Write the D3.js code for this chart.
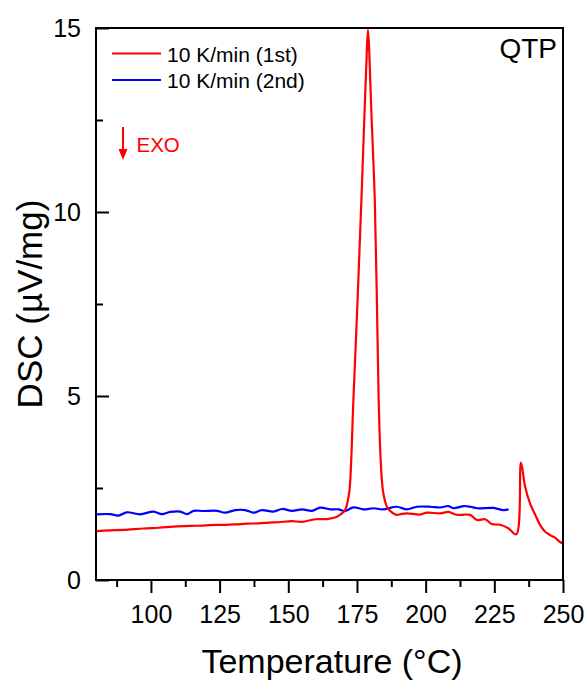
<!DOCTYPE html>
<html><head><meta charset="utf-8">
<script src="https://cdn.jsdelivr.net/npm/d3@7"></script>
<style>body{margin:0;background:#fff;} text{font-family:Arial,"Liberation Sans",sans-serif;}</style>
</head><body>
<svg id="c" width="587" height="680"></svg>
<script>
const xTicks = [100,125,150,175,200,225,250];
const xMinorTicks = [87.5,112.5,137.5,162.5,187.5,212.5,237.5];
const yTicks = [0,5,10,15];
const yMinorTicks = [2.5,7.5,12.5];
const seriesNames = ["10 K/min (1st)","10 K/min (2nd)"];
const seriesColors = ["#ff0000","#0000ff"];

const firstT = [80,85,90,97.3,103,108.2,114,119,124,127,130.7,135,139.2,143,146.4,151.3,155,159.8,164.6,167.7,169.5,170.7,171.5,172.3,173.7,175.1,176.6,177.8,178.5,179.0,179.5,180.3,181.5,182.2,182.9,183.6,184.4,185.2,185.9,187.1,189.5,191,193.2,198,200.5,205.3,208.3,210.8,212.8,216.2,218.7,221.7,224.1,227.1,230.2,233,234.7,236.2,238,239.9,241.7,243.5,245.3,247.1,248.8,250];
const firstV = [1.33,1.35,1.36,1.40,1.42,1.45,1.47,1.48,1.50,1.50,1.51,1.53,1.54,1.56,1.57,1.60,1.58,1.65,1.66,1.72,1.81,1.90,2.1,2.45,4.9,7.4,10.3,12.8,14.2,14.95,14.3,12.6,10.3,7.8,4.9,3.3,2.45,2.15,1.99,1.88,1.77,1.79,1.81,1.78,1.83,1.81,1.85,1.78,1.77,1.77,1.63,1.65,1.52,1.50,1.40,1.24,3.19,2.54,2.08,1.77,1.49,1.31,1.22,1.15,1.04,0.99];

const secondT = [80.3,85.2,88.2,91.2,96.1,100.9,104,107,110.7,113.1,115.5,119.1,124,127,130.7,134.3,137.3,140.4,144.6,147.7,151.3,155,158.6,161.6,165.3,168.3,170.7,173.7,177.4,181,184.4,189.5,193.2,196.8,201.7,205.3,208.3,210.2,213.9,216.3,218.7,224.7,228.3,230.2];
const secondV = [1.785,1.79,1.75,1.84,1.785,1.86,1.79,1.85,1.86,1.79,1.88,1.875,1.88,1.83,1.90,1.90,1.83,1.90,1.86,1.93,1.88,1.92,1.88,1.965,1.92,1.92,1.875,1.975,1.92,1.95,1.92,1.99,1.92,1.99,1.99,1.97,2.01,1.95,2.01,1.99,1.95,1.96,1.90,1.92];

const svg = d3.select("#c");
const L=96, R=563, T=28, B=580;
const x = d3.scaleLinear().domain([80,250]).range([L,R]);
const y = d3.scaleLinear().domain([0,15]).range([B,T]);

const line = d3.line().x(d=>x(d[0])).y(d=>y(d[1])).curve(d3.curveCatmullRom.alpha(0.5));
const s1 = firstT.map((t,i)=>[t,firstV[i]]);
const s2 = secondT.map((t,i)=>[t,secondV[i]]);

svg.append("clipPath").attr("id","cl").append("rect").attr("x",L).attr("y",T-1).attr("width",R-L).attr("height",B-T+1);
const g = svg.append("g").attr("clip-path","url(#cl)");
g.append("path").attr("d",line(s2)).attr("fill","none").attr("stroke",seriesColors[1]).attr("stroke-width",2.2).attr("stroke-linejoin","round");
g.append("path").attr("d",line(s1)).attr("fill","none").attr("stroke",seriesColors[0]).attr("stroke-width",2.2).attr("stroke-linejoin","round");

// frame
svg.append("rect").attr("x",L).attr("y",T).attr("width",R-L).attr("height",B-T).attr("fill","none").attr("stroke","#000").attr("stroke-width",2);

// x axis
const xa = svg.append("g").attr("transform",`translate(0,${B})`)
  .call(d3.axisBottom(x).tickValues(xTicks).tickSize(13).tickPadding(12).tickFormat(d3.format("d")));
xa.select(".domain").remove();
xa.selectAll("line").attr("stroke","#000").attr("stroke-width",2);
xa.selectAll("text").attr("font-size",25).attr("fill","#000").attr("font-family","Arial, Liberation Sans, sans-serif");
const xm = svg.append("g").attr("transform",`translate(0,${B})`)
  .call(d3.axisBottom(x).tickValues(xMinorTicks).tickSize(7).tickFormat(""));
xm.select(".domain").remove();
xm.selectAll("line").attr("stroke","#000").attr("stroke-width",2);

// y axis (inward ticks)
const ya = svg.append("g").attr("transform",`translate(${L},0)`)
  .call(d3.axisRight(y).tickValues(yTicks).tickSize(13).tickFormat(""));
ya.select(".domain").remove();
ya.selectAll("line").attr("stroke","#000").attr("stroke-width",2);
const ym = svg.append("g").attr("transform",`translate(${L},0)`)
  .call(d3.axisRight(y).tickValues(yMinorTicks).tickSize(7).tickFormat(""));
ym.select(".domain").remove();
ym.selectAll("line").attr("stroke","#000").attr("stroke-width",2);
svg.append("g").selectAll("text").data(yTicks).join("text")
  .attr("x",L-15).attr("y",d=>y(d)).attr("dy","0.35em").attr("text-anchor","end")
  .attr("font-size",25).attr("fill","#000").text(d=>d);

// axis titles
svg.append("text").attr("x",332).attr("y",673).attr("text-anchor","middle")
  .attr("font-size",34).attr("fill","#000").text("Temperature (°C)");
svg.append("text").attr("transform",`translate(42,${(T+B)/2}) rotate(-90)`).attr("text-anchor","middle")
  .attr("font-size",35).attr("fill","#000").text("DSC (µV/mg)");

// legend
seriesNames.forEach((n,i)=>{
  const yy = 53.5 + i*26.5;
  svg.append("line").attr("x1",112).attr("x2",161).attr("y1",yy).attr("y2",yy).attr("stroke",seriesColors[i]).attr("stroke-width",2);
  svg.append("text").attr("x",167).attr("y",yy+8).attr("font-size",21).attr("fill","#000").text(n);
});

// QTP
svg.append("text").attr("x",557).attr("y",58).attr("text-anchor","end").attr("font-size",28).attr("fill","#000").text("QTP");

// EXO arrow
svg.append("line").attr("x1",123).attr("x2",123).attr("y1",127).attr("y2",150).attr("stroke","#ff0000").attr("stroke-width",2);
svg.append("path").attr("d","M118.5,149 L127.5,149 L123,160 Z").attr("fill","#ff0000");
svg.append("text").attr("x",136.5).attr("y",151.5).attr("font-size",20.5).attr("fill","#ff0000").text("EXO");
</script>
</body></html>
